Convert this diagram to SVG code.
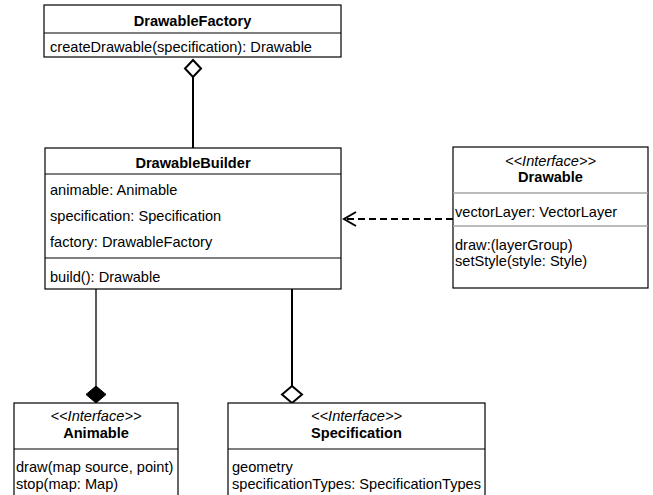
<svg xmlns="http://www.w3.org/2000/svg" width="653" height="495" viewBox="0 0 653 495">
<style>
text{font-family:"Liberation Sans",Arial,sans-serif;font-size:14.6px;fill:#000}
.b{font-weight:bold}
.i{font-style:italic}
.box{fill:#fff;stroke:#000;stroke-width:1.2}
.sep{stroke:#000;stroke-width:1.2}
.gsep{stroke:#a6a6a6;stroke-width:1.5}
.con{fill:none;stroke:#000;stroke-width:2}
</style>
<rect width="653" height="495" fill="#fff"/>
<g id="connectors">
  <line class="con" x1="193" y1="77" x2="193" y2="148"/>
  <polygon points="193,60 201,68.5 193,77 185,68.5" fill="#fff" stroke="#000" stroke-width="2"/>
  <line x1="96" y1="289" x2="96" y2="386" stroke="#000" stroke-width="1.3"/>
  <polygon points="96,386 106,394.5 96,403 86,394.5" fill="#000" stroke="#000" stroke-width="1"/>
  <line class="con" x1="292" y1="289" x2="292" y2="386"/>
  <polygon points="292,386 302,394.5 292,403 282,394.5" fill="#fff" stroke="#000" stroke-width="2"/>
  <line x1="453" y1="219" x2="345" y2="219" stroke="#000" stroke-width="2" stroke-dasharray="7,4"/>
  <polyline points="356,212 344,219 356,226" fill="none" stroke="#000" stroke-width="2"/>
</g>
<g id="DrawableFactory">
  <rect class="box" x="44" y="5" width="297" height="52"/>
  <line class="sep" x1="44" y1="33" x2="341" y2="33"/>
  <text class="b" x="192.5" y="26" text-anchor="middle">DrawableFactory</text>
  <text x="50" y="52">createDrawable(specification): Drawable</text>
</g>
<g id="DrawableBuilder">
  <rect class="box" x="45" y="148" width="296" height="141"/>
  <line class="sep" x1="45" y1="174" x2="341" y2="174"/>
  <line class="sep" x1="45" y1="258" x2="341" y2="258"/>
  <text class="b" x="193" y="168" text-anchor="middle">DrawableBuilder</text>
  <text x="50" y="195">animable: Animable</text>
  <text x="50" y="221">specification: Specification</text>
  <text x="50" y="247">factory: DrawableFactory</text>
  <text x="50" y="282">build(): Drawable</text>
</g>
<g id="Drawable">
  <rect class="box" x="453" y="147" width="195" height="141"/>
  <line class="gsep" x1="453" y1="193" x2="648" y2="193"/>
  <line class="gsep" x1="453" y1="226" x2="648" y2="226"/>
  <text class="i" x="550.5" y="166" text-anchor="middle">&lt;&lt;Interface&gt;&gt;</text>
  <text class="b" x="550.5" y="182" text-anchor="middle">Drawable</text>
  <text x="455" y="217">vectorLayer: VectorLayer</text>
  <text x="455" y="250">draw:(layerGroup)</text>
  <text x="455" y="266">setStyle(style: Style)</text>
</g>
<g id="Animable">
  <rect class="box" x="14" y="403" width="164" height="100" stroke="#333"/>
  <line class="sep" x1="14" y1="449" x2="178" y2="449" stroke="#555"/>
  <text class="i" x="96" y="421" text-anchor="middle">&lt;&lt;Interface&gt;&gt;</text>
  <text class="b" x="96" y="438" text-anchor="middle">Animable</text>
  <text x="16" y="472">draw(map source, point)</text>
  <text x="16" y="489">stop(map: Map)</text>
</g>
<g id="Specification">
  <rect class="box" x="228" y="403" width="257" height="100" stroke="#333"/>
  <line class="sep" x1="228" y1="449" x2="485" y2="449" stroke="#555"/>
  <text class="i" x="356.5" y="421" text-anchor="middle">&lt;&lt;Interface&gt;&gt;</text>
  <text class="b" x="356.5" y="438" text-anchor="middle">Specification</text>
  <text x="232" y="472">geometry</text>
  <text x="232" y="489">specificationTypes: SpecificationTypes</text>
</g>
</svg>
